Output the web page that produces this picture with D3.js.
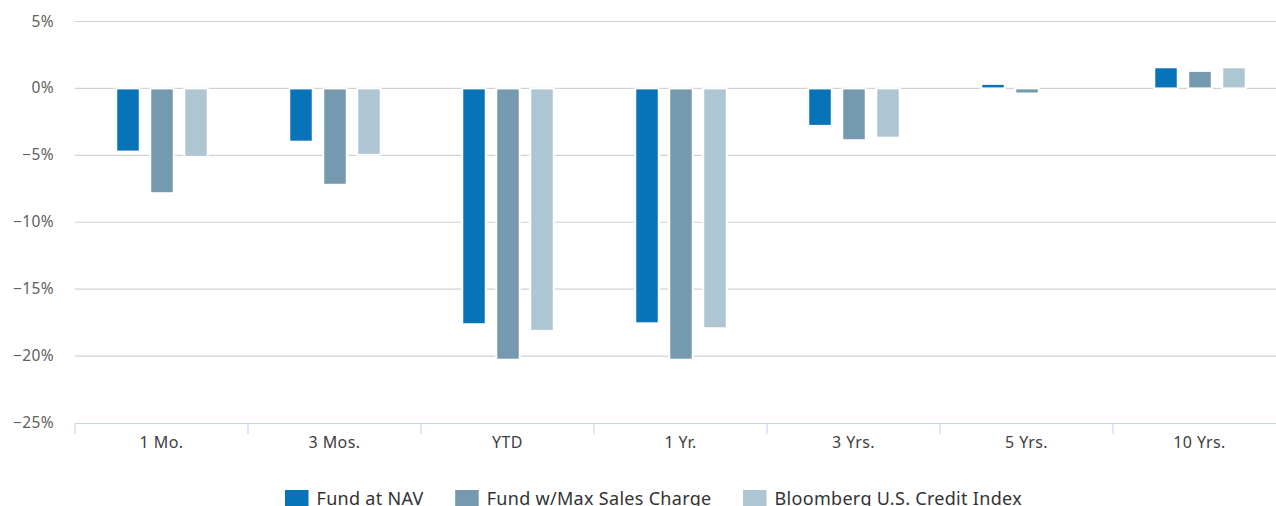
<!DOCTYPE html>
<html>
<head>
<meta charset="utf-8">
<script src="https://cdn.jsdelivr.net/npm/d3@7/dist/d3.min.js"></script>
<style>
  html, body { margin: 0; padding: 0; background: #fff; overflow: hidden; }
  svg { display: block; font-family: "Noto Sans", "DejaVu Sans", sans-serif; }
</style>
</head>
<body>
<svg id="chart" width="1276" height="506"></svg>
<script>
// Performance periods
const categories = ["1 Mo.", "3 Mos.", "YTD", "1 Yr.", "3 Yrs.", "5 Yrs.", "10 Yrs."];

// Series names and colours
const seriesNames = ["Fund at NAV", "Fund w/Max Sales Charge", "Bloomberg U.S. Credit Index"];
const seriesColors = ["#0773b9", "#7599ae", "#aec6d3"];

// Returns (%) per period
const fundNav      = [-4.72, -3.98, -17.62, -17.55, -2.80,  0.34, 1.58];
const fundMaxSales = [-7.83, -7.20, -20.27, -20.27, -3.87, -0.38, 1.31];
const creditIndex  = [-5.12, -4.96, -18.12, -17.92, -3.68,  0.00, 1.58];

// Y-axis ticks
const yTicks = [5, 0, -5, -10, -15, -20, -25];

const seriesValues = [fundNav, fundMaxSales, creditIndex];

const svg = d3.select("#chart");
const margin = { left: 75, right: -10, top: 21.5, bottom: 423 };
const plotRight = 1276 - margin.right;

const y = d3.scaleLinear().domain([-25, 5]).range([423, 21.5]);
const x = d3.scaleBand().domain(categories).range([margin.left, plotRight]).paddingInner(0).paddingOuter(0);
const xs = d3.scaleBand().domain(seriesNames).range([36, x.bandwidth() - 35]).paddingInner(0);

// Grid lines
svg.append("g")
  .selectAll("line")
  .data(yTicks.filter(t => t !== -25))
  .join("line")
  .attr("x1", margin.left).attr("x2", plotRight)
  .attr("y1", d => y(d)).attr("y2", d => y(d))
  .attr("stroke", "#d2d2d2").attr("stroke-width", 1.2);

// Y-axis labels
const fmt = d => (d < 0 ? "\u2212" + Math.abs(d) : d) + "%";
svg.append("g")
  .selectAll("text")
  .data(yTicks)
  .join("text")
  .attr("x", 54).attr("y", d => y(d) + 5)
  .attr("text-anchor", "end")
  .attr("font-size", 15.5)
  .attr("letter-spacing", 0.4)
  .attr("fill", "#606060")
  .text(fmt);

// X axis
const xAxis = svg.append("g").attr("transform", `translate(0,${y(-25)})`)
  .call(d3.axisBottom(x).tickSize(0).tickFormat(d => d));
xAxis.select(".domain").attr("stroke", "#ccd6eb").attr("stroke-width", 1.2);
xAxis.selectAll(".tick text")
  .attr("dy", 0).attr("y", 25)
  .attr("font-family", "Noto Sans, DejaVu Sans, sans-serif")
  .attr("font-size", 16)
  .attr("letter-spacing", 0.4)
  .attr("fill", "#404040");

// Tick marks at category boundaries
const boundaries = categories.map(c => x(c)).concat([x(categories[categories.length - 1]) + x.bandwidth()]);
svg.append("g")
  .selectAll("line")
  .data(boundaries)
  .join("line")
  .attr("x1", d => d).attr("x2", d => d)
  .attr("y1", y(-25)).attr("y2", y(-25) + 11)
  .attr("stroke", "#ccd6eb").attr("stroke-width", 1.2);

// Bars
const barW = 23.5;
const groups = svg.append("g")
  .selectAll("g")
  .data(categories)
  .join("g")
  .attr("transform", d => `translate(${x(d)},0)`);

groups.selectAll("rect")
  .data((c, i) => seriesNames.map((s, k) => ({ s, k, v: seriesValues[k][i] })))
  .join("rect")
  .attr("x", d => xs(d.s) + xs.bandwidth() / 2 - barW / 2)
  .attr("width", barW)
  .attr("y", d => y(Math.max(0, d.v)))
  .attr("height", d => Math.abs(y(d.v) - y(0)))
  .attr("fill", d => seriesColors[d.k])
  .attr("stroke", d => d.v === 0 ? "none" : "#ffffff")
  .attr("stroke-width", 2);

// Legend
const legend = svg.append("g");
let lx = 285;
seriesNames.forEach((name, k) => {
  legend.append("rect")
    .attr("x", lx).attr("y", 490).attr("width", 23.5).attr("height", 23.5)
    .attr("fill", seriesColors[k]);
  const t = legend.append("text")
    .attr("x", lx + 31.5).attr("y", 504.5)
    .attr("font-size", 18)
    .attr("letter-spacing", 0.3)
    .attr("fill", "#333333")
    .text(name);
  lx += 31.5 + t.node().getComputedTextLength() + 31.5;
});
</script>
</body>
</html>
